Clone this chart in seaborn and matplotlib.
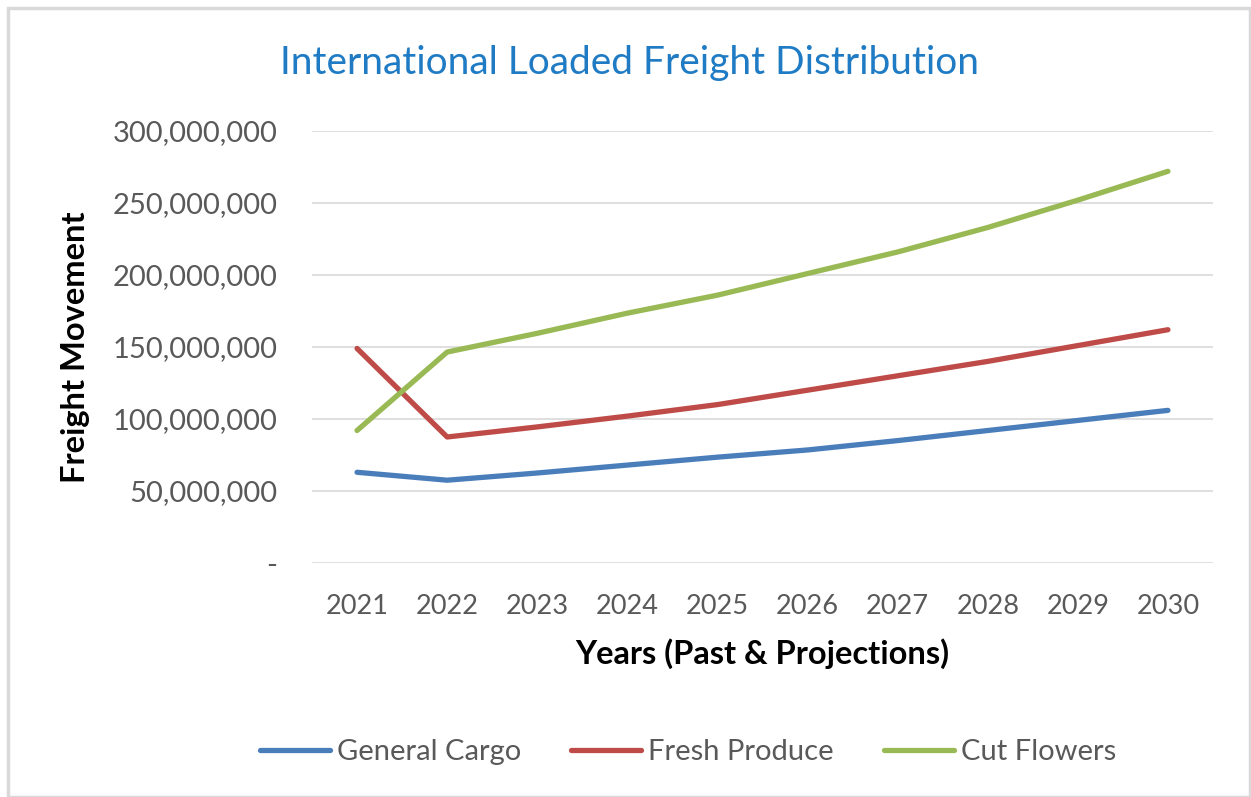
import pandas as pd
import numpy as np
import matplotlib.pyplot as plt
import matplotlib.ticker as mticker
from matplotlib.patches import Rectangle
import seaborn as sns

years = [2021, 2022, 2023, 2024, 2025, 2026, 2027, 2028, 2029, 2030]
general_cargo = [63.0e6, 57.5e6, 62.5e6, 68.0e6, 73.5e6, 78.5e6, 85.0e6, 92.0e6, 99.0e6, 106.0e6]
fresh_produce = [149.0e6, 87.5e6, 94.5e6, 102.0e6, 110.0e6, 120.0e6, 130.0e6, 140.0e6, 151.0e6, 162.0e6]
cut_flowers = [92.0e6, 146.5e6, 159.5e6, 173.5e6, 186.0e6, 201.0e6, 216.0e6, 233.0e6, 252.0e6, 272.0e6]
series_names = ["General Cargo", "Fresh Produce", "Cut Flowers"]
colors = ["#4A7EBB", "#BE4B48", "#98B954"]

df = pd.DataFrame({"Year": years, "General Cargo": general_cargo,
                   "Fresh Produce": fresh_produce, "Cut Flowers": cut_flowers})
long = df.melt(id_vars="Year", var_name="Series", value_name="Freight")

sns.set_style("white")
plt.rcParams['font.family'] = ['Lato', 'DejaVu Sans']

fig = plt.figure(figsize=(12.51, 7.97), dpi=100)
ax = fig.add_axes([312/1251, 1-563/797, (1213-312)/1251, (563-131)/797])

sns.lineplot(data=long, x="Year", y="Freight", hue="Series", hue_order=series_names,
             palette=colors, linewidth=3.8, ax=ax, legend=False,
             solid_capstyle="round", solid_joinstyle="round")

ax.set_xlim(2020.5, 2030.5)
ax.set_ylim(0, 300e6)
ax.set_xticks(years)
ax.set_yticks(np.arange(0, 300e6 + 1, 50e6))
ax.yaxis.set_major_formatter(mticker.FuncFormatter(lambda v, p: "-" if v == 0 else f"{v:,.0f}"))
ax.grid(axis="y", color="#D9D9D9", linewidth=1.2)
ax.set_axisbelow(True)
for s in ax.spines.values():
    s.set_visible(False)
ax.tick_params(axis="both", length=0, colors="#595959")
ax.tick_params(axis="y", pad=25, labelsize=21)
ax.tick_params(axis="x", pad=22, labelsize=19.5)

ax.set_xlabel("Years (Past & Projections)", fontsize=23.5, fontweight="bold", color="black", labelpad=14)
ax.set_ylabel("Freight Movement", fontsize=23.5, fontweight="bold", color="black")
ax.yaxis.set_label_coords(-0.246, 0.5)

fig.text(629/1251, 1-63/797, "International Loaded Freight Distribution",
         ha="center", va="center", fontsize=28, color="#1F7BC4")

handles = [plt.Line2D([], [], color=c, linewidth=3.8, solid_capstyle="round") for c in colors]
leg = fig.legend(handles, series_names, loc="center", bbox_to_anchor=(688/1251, 1-752/797),
                 ncol=3, frameon=False, fontsize=21, handlelength=2.4, handletextpad=0.25,
                 columnspacing=1.7)
for t in leg.get_texts():
    t.set_color("#595959")

fig.patches.append(Rectangle((8/1251, 0), 1 - 9/1251, 1 - 8/797, transform=fig.transFigure,
                             fill=False, edgecolor="#D9D9D9", linewidth=2.5))

fig.savefig("out.png", dpi=100)
